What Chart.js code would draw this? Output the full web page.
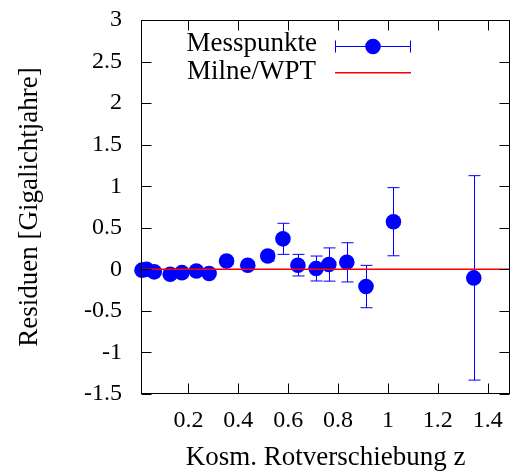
<!DOCTYPE html>
<html>
<head>
<meta charset="utf-8">
<script src="https://cdn.jsdelivr.net/npm/chart.js@4.4.1/dist/chart.umd.min.js"></script>
<style>
  html, body { margin: 0; padding: 0; background: #fff; }
  #wrap { width: 518px; height: 475px; }
</style>
</head>
<body>
<div id="wrap"><canvas id="chart" width="518" height="475"></canvas></div>
<script>
// Messpunkte: Rotverschiebung, Residuum und Fehler (Gigalichtjahre)
const zValues   = [0.014, 0.032, 0.063, 0.127, 0.174, 0.232, 0.283, 0.353, 0.438, 0.518, 0.579, 0.639, 0.712, 0.763, 0.835, 0.912, 1.022, 1.344];
const residuals = [-0.01, 0.0, -0.03, -0.06, -0.04, -0.02, -0.05, 0.10, 0.05, 0.16, 0.367, 0.05, 0.01, 0.058, 0.084, -0.207, 0.573, -0.103];
const errors    = [0.02, 0.02, 0.02, 0.03, 0.03, 0.03, 0.03, 0.04, 0.04, 0.06, 0.187, 0.13, 0.15, 0.2, 0.236, 0.255, 0.41, 1.23];

// Milne/WPT Modell: Residuum null
const modelZ = [0.01, 1.49];
const modelY = [0, 0];

const xTicks = [0.2, 0.4, 0.6, 0.8, 1, 1.2, 1.4];
const yTicks = [-1.5, -1, -0.5, 0, 0.5, 1, 1.5, 2, 2.5, 3];

const FONT = '"Liberation Serif", "Times New Roman", serif';
const BLUE = '#0000ff';
const RED = '#ff0000';

const errorBars = {
    id: 'errorBars',
    beforeDatasetsDraw(chart) {
        const ctx = chart.ctx;
        const xs = chart.scales.x;
        const ys = chart.scales.y;
        ctx.save();
        ctx.strokeStyle = BLUE;
        ctx.lineWidth = 1;
        zValues.forEach((z, i) => {
            const x = Math.round(xs.getPixelForValue(z)) + 0.5;
            const yTop = ys.getPixelForValue(residuals[i] + errors[i]);
            const yBot = ys.getPixelForValue(residuals[i] - errors[i]);
            ctx.beginPath();
            ctx.moveTo(x, yTop);
            ctx.lineTo(x, yBot);
            ctx.moveTo(x - 6, yTop);
            ctx.lineTo(x + 6, yTop);
            ctx.moveTo(x - 6, yBot);
            ctx.lineTo(x + 6, yBot);
            ctx.stroke();
        });
        ctx.restore();
    }
};

const frame = {
    id: 'frame',
    afterDraw(chart) {
        const ctx = chart.ctx;
        const a = chart.chartArea;
        const xs = chart.scales.x;
        const ys = chart.scales.y;
        const l = Math.round(a.left) + 0.5, r = Math.round(a.right) - 0.5;
        const t = Math.round(a.top) + 0.5, b = Math.round(a.bottom) - 0.5;
        const len = 10;
        ctx.save();
        ctx.strokeStyle = '#000';
        ctx.lineWidth = 1;
        ctx.beginPath();
        xTicks.forEach(v => {
            const x = Math.round(xs.getPixelForValue(v)) + 0.5;
            ctx.moveTo(x, b); ctx.lineTo(x, b - len);
            ctx.moveTo(x, t); ctx.lineTo(x, t + len);
        });
        yTicks.forEach(v => {
            const y = Math.round(ys.getPixelForValue(v)) + 0.5;
            ctx.moveTo(l, y); ctx.lineTo(l + len, y);
            ctx.moveTo(r, y); ctx.lineTo(r - len, y);
        });
        ctx.stroke();
        ctx.strokeRect(l, t, r - l, b - t);
        ctx.restore();
    }
};

const keyBox = {
    id: 'keyBox',
    afterDraw(chart) {
        const ctx = chart.ctx;
        ctx.save();
        ctx.font = '27px ' + FONT;
        ctx.fillStyle = '#000';
        ctx.textAlign = 'right';
        ctx.textBaseline = 'alphabetic';
        ctx.fillText('Messpunkte', 317, 50.5);
        ctx.fillText('Milne/WPT', 316, 78.5);

        // sample: Messpunkte
        ctx.strokeStyle = BLUE;
        ctx.lineWidth = 1;
        ctx.beginPath();
        ctx.moveTo(335, 46.5); ctx.lineTo(411, 46.5);
        ctx.moveTo(335.5, 40.5); ctx.lineTo(335.5, 52.5);
        ctx.moveTo(410.5, 40.5); ctx.lineTo(410.5, 52.5);
        ctx.stroke();
        ctx.fillStyle = BLUE;
        ctx.beginPath();
        ctx.arc(373, 46.5, 7.8, 0, Math.PI * 2);
        ctx.fill();

        // sample: Milne/WPT
        ctx.strokeStyle = RED;
        ctx.lineWidth = 1.5;
        ctx.beginPath();
        ctx.moveTo(335, 72.7); ctx.lineTo(411, 72.7);
        ctx.stroke();
        ctx.restore();
    }
};

const noPad = s => {
    s.paddingLeft = 0;
    s.paddingRight = 0;
    s.paddingTop = 0;
    s.paddingBottom = 0;
};

new Chart(document.getElementById('chart'), {
    type: 'scatter',
    data: {
        datasets: [
            {
                label: 'Milne/WPT',
                type: 'line',
                data: modelZ.map((z, i) => ({ x: z, y: modelY[i] })),
                borderColor: RED,
                borderWidth: 1.5,
                pointRadius: 0,
                fill: false,
                order: 0
            },
            {
                label: 'Messpunkte',
                data: zValues.map((z, i) => ({ x: z, y: residuals[i] })),
                backgroundColor: BLUE,
                borderWidth: 0,
                pointRadius: 7.8,
                clip: false,
                order: 1
            }
        ]
    },
    options: {
        responsive: false,
        animation: false,
        devicePixelRatio: 1,
        layout: { padding: { top: 20, right: 5, left: 0, bottom: 0 } },
        plugins: {
            legend: { display: false },
            tooltip: { enabled: false }
        },
        scales: {
            x: {
                type: 'linear',
                min: 0.01,
                max: 1.49,
                afterBuildTicks: s => { s.ticks = xTicks.map(v => ({ value: v })); },
                afterFit: s => { s.height = 81; noPad(s); },
                grid: { display: false, drawTicks: false },
                border: { display: false },
                ticks: {
                    callback: v => String(v),
                    font: { family: FONT, size: 24 },
                    color: '#000',
                    padding: 12,
                    maxRotation: 0,
                    autoSkip: false
                },
                title: {
                    display: true,
                    text: 'Kosm. Rotverschiebung z',
                    font: { family: FONT, size: 27 },
                    color: '#000',
                    padding: { top: 0, bottom: 1 }
                }
            },
            y: {
                type: 'linear',
                min: -1.5,
                max: 3,
                afterBuildTicks: s => { s.ticks = yTicks.map(v => ({ value: v })); },
                afterFit: s => { s.width = 141; noPad(s); },
                grid: { display: false, drawTicks: false },
                border: { display: false },
                ticks: {
                    callback: v => String(v),
                    font: { family: FONT, size: 24 },
                    color: '#000',
                    padding: 19,
                    autoSkip: false
                },
                title: {
                    display: true,
                    text: 'Residuen [Gigalichtjahre]',
                    font: { family: FONT, size: 27 },
                    color: '#000',
                    padding: { top: 14, bottom: 0 }
                }
            }
        }
    },
    plugins: [errorBars, frame, keyBox]
});
</script>
</body>
</html>
